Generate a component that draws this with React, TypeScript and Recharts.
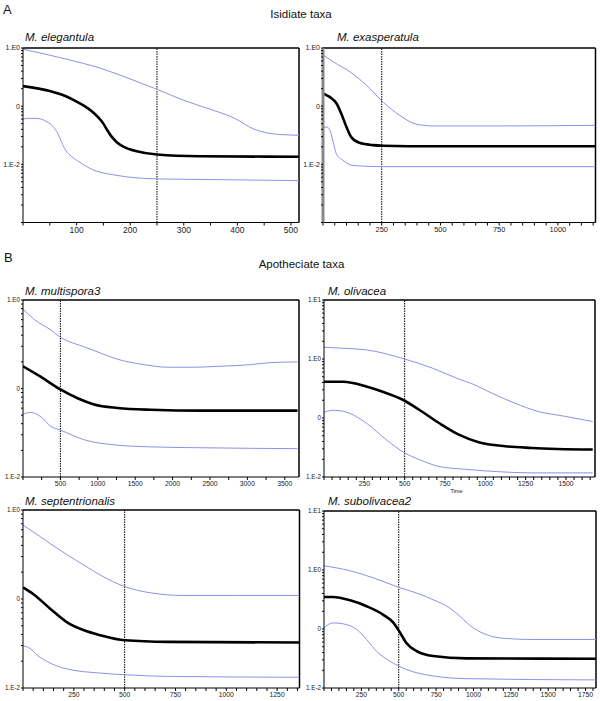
import React from "react";
import { LineChart, Line, XAxis, YAxis, ReferenceLine } from "recharts";

type Pt = { t: number; v: number };
const P = (arr: number[][]): Pt[] => arr.map(([t, v]) => ({ t, v }));

// ---------- Isidiate taxa ----------
const elegantulaUpper = P([[0, 0.955], [80, 0.646], [145, 0.447], [205, 0.282], [250, 0.195], [300, 0.126], [345, 0.0912], [395, 0.0617], [430, 0.0407], [455, 0.0347], [485, 0.0324], [515, 0.0316]]);
const elegantulaMedian = P([[0, 0.221], [50, 0.182], [80, 0.148], [100, 0.12], [115, 0.1], [130, 0.0794], [140, 0.0646], [150, 0.0501], [157, 0.0389], [165, 0.0302], [175, 0.024], [190, 0.0195], [210, 0.017], [250, 0.0148], [330, 0.0138], [515, 0.0135]]);
const elegantulaLower = P([[0, 0.0589], [7, 0.0617], [25, 0.0617], [45, 0.0537], [57, 0.0437], [65, 0.0339], [72, 0.024], [80, 0.0172], [90, 0.0138], [105, 0.011], [125, 0.00851], [175, 0.00646], [250, 0.00562], [330, 0.0055], [515, 0.00525]]);

const exasperatulaUpper = P([[0, 0.759], [45, 0.575], [115, 0.389], [185, 0.229], [256, 0.1175], [327, 0.0692], [398, 0.049], [470, 0.0457], [750, 0.0457], [1160, 0.0468]]);
const exasperatulaMedian = P([[0, 0.166], [28, 0.1445], [57, 0.112], [78, 0.0741], [100, 0.0437], [120, 0.0295], [155, 0.0234], [213, 0.0214], [256, 0.0209], [470, 0.0204], [1160, 0.0204]]);
const exasperatulaLower = P([[0, 0.0427], [17, 0.0437], [31, 0.0372], [43, 0.0245], [57, 0.0151], [85, 0.01175], [128, 0.00955], [256, 0.00912], [1160, 0.00912]]);

// ---------- Apotheciate taxa ----------
const multisporaUpper = P([[0, 0.79], [150, 0.603], [375, 0.457], [500, 0.38], [820, 0.295], [1040, 0.251], [1265, 0.214], [1620, 0.186], [1930, 0.174], [2290, 0.174], [2600, 0.178], [3040, 0.186], [3270, 0.195], [3670, 0.2]]);
const multisporaMedian = P([[0, 0.178], [240, 0.135], [500, 0.0977], [730, 0.0776], [950, 0.0661], [1265, 0.0603], [1710, 0.0575], [2380, 0.0562], [3670, 0.0562]]);
const multisporaLower = P([[0, 0.0513], [100, 0.0537], [240, 0.0479], [375, 0.0372], [500, 0.0339], [820, 0.0263], [1265, 0.0229], [1710, 0.0219], [2380, 0.0214], [3670, 0.0209]]);

const olivaceaUpper = P([[0, 1.585], [130, 1.514], [262, 1.429], [500, 1.0], [672, 0.7], [836, 0.457], [918, 0.38], [1041, 0.263], [1184, 0.178], [1328, 0.129], [1492, 0.107], [1666, 0.0871]]);
const olivaceaMedian = P([[0, 0.411], [119, 0.411], [262, 0.343], [385, 0.265], [500, 0.196], [590, 0.138], [713, 0.0822], [836, 0.0522], [959, 0.0388], [1123, 0.0332], [1287, 0.0311], [1666, 0.0292]]);
const olivaceaLower = P([[0, 0.125], [57, 0.135], [119, 0.13], [262, 0.0822], [385, 0.0431], [500, 0.0256], [590, 0.0198], [713, 0.0151], [877, 0.0135], [1082, 0.0123], [1287, 0.01175], [1666, 0.01175]]);

const septentrionalisUpper = P([[0, 0.676], [50, 0.569], [135, 0.417], [215, 0.316], [300, 0.24], [380, 0.186], [500, 0.138], [625, 0.1175], [790, 0.1096], [1035, 0.1096], [1360, 0.1096]]);
const septentrionalisMedian = P([[0, 0.135], [50, 0.114], [135, 0.0774], [215, 0.0551], [300, 0.0445], [380, 0.0392], [500, 0.0344], [710, 0.033], [1360, 0.0324]]);
const septentrionalisLower = P([[0, 0.0298], [35, 0.0278], [70, 0.0234], [135, 0.019], [215, 0.0164], [380, 0.0147], [500, 0.0141], [710, 0.0135], [1360, 0.0132]]);

const subolivaceaUpper = P([[0, 1.178], [175, 0.97], [395, 0.641], [500, 0.508], [620, 0.407], [730, 0.314], [840, 0.2275], [910, 0.164], [960, 0.125], [1000, 0.1045], [1050, 0.088], [1100, 0.078], [1220, 0.069], [1400, 0.0664], [1820, 0.0664]]);
const subolivaceaMedian = P([[0, 0.348], [60, 0.348], [175, 0.306], [285, 0.243], [395, 0.175], [465, 0.127], [510, 0.0861], [550, 0.0583], [620, 0.0422], [730, 0.0348], [955, 0.0318], [1820, 0.0314]]);
const subolivaceaLower = P([[0, 0.1045], [60, 0.127], [130, 0.122], [220, 0.098], [285, 0.0664], [350, 0.0422], [440, 0.0286], [550, 0.0207], [730, 0.016], [955, 0.0144], [1820, 0.0137]]);

// ---------- tick labels ----------
const yMajorValues = [10, 1, 0.1, 0.01, 0.001];
const yMajorLabels = ["1.E1", "1.E0", "0", "1.E-2", ""];
const elegantulaXLabels = [100, 200, 300, 400, 500];
const exasperatulaXLabels = [250, 500, 750, 1000];
const multisporaXLabels = [500, 1000, 1500, 2000, 2500, 3000, 3500];
const olivaceaXLabels = [250, 500, 750, 1000, 1250, 1500];
const septentrionalisXLabels = [250, 500, 750, 1000, 1250];
const subolivaceaXLabels = [250, 500, 750, 1000, 1250, 1500, 1750];

const FONT = "'Liberation Sans', Arial, Helvetica, sans-serif";
const BLUE = "#8f8fea";

function yLabel(v: number): string {
  const i = yMajorValues.findIndex((m) => Math.abs(v / m - 1) < 1e-6);
  return i >= 0 ? yMajorLabels[i] : "";
}

function logTicks(min: number, max: number): number[] {
  const out: number[] = [];
  const e0 = Math.round(Math.log10(min));
  const e1 = Math.round(Math.log10(max));
  for (let e = e0; e < e1; e++) {
    const d = Math.pow(10, e);
    for (let k = 1; k < 10; k++) out.push(d * k);
  }
  out.push(max);
  return out;
}

function linTicks(step: number, max: number): number[] {
  const out: number[] = [];
  for (let v = 0; v <= max + 1e-9; v += step) out.push(v);
  return out;
}

type PanelProps = {
  left: number; top: number; w: number; h: number;
  xMax: number; xStep: number; xLabels: number[];
  yMin: number; yMax: number; cut: number;
  upper: Pt[]; median: Pt[]; lower: Pt[];
  xFont: number; yFont: number;
  axisColor?: string; axisWidth?: number;
};

function Panel(p: PanelProps) {
  const YW = 30, MT = 4, MR = 4, XH = 18;
  const width = p.w + YW + MR;
  const height = p.h + MT + XH;
  const xt = linTicks(p.xStep, p.xMax);
  const yt = logTicks(p.yMin, p.yMax);
  return (
    <div style={{ position: "absolute", left: p.left - YW, top: p.top - MT }}>
      <LineChart width={width} height={height} margin={{ top: MT, right: MR, left: 0, bottom: 0 }}>
        <XAxis
          type="number" dataKey="t" domain={[0, p.xMax]} allowDataOverflow ticks={xt} interval={0}
          tickFormatter={(v: number) => (p.xLabels.includes(v) ? String(v) : "")}
          height={XH} tickSize={3} tickMargin={1}
          axisLine={{ stroke: "#000", strokeWidth: 1 }} tickLine={{ stroke: "#000" }}
          tick={{ fontSize: p.xFont, fill: "#222", fontFamily: FONT }}
        />
        <YAxis
          type="number" scale="log" domain={[p.yMin, p.yMax]} allowDataOverflow ticks={yt} interval={0}
          tickFormatter={(v: number) => yLabel(v)}
          width={YW} tickSize={2} tickMargin={1}
          axisLine={{ stroke: p.axisColor || "#000", strokeWidth: p.axisWidth || 1 }} tickLine={{ stroke: "#000" }}
          tick={{ fontSize: p.yFont, fill: "#222", fontFamily: FONT }}
        />
        <ReferenceLine y={p.yMax} stroke="#000" strokeWidth={1.5} ifOverflow="visible" />
        <ReferenceLine x={p.xMax} stroke="#000" strokeWidth={1.5} ifOverflow="visible" />
        <ReferenceLine x={p.cut} stroke="#000" strokeWidth={1} strokeDasharray="1.5 1" ifOverflow="visible" />
        <Line data={p.upper} dataKey="v" type="monotone" stroke={BLUE} strokeWidth={1} dot={false} isAnimationActive={false} />
        <Line data={p.lower} dataKey="v" type="monotone" stroke={BLUE} strokeWidth={1} dot={false} isAnimationActive={false} />
        <Line data={p.median} dataKey="v" type="monotone" stroke="#000" strokeWidth={2.6} dot={false} isAnimationActive={false} />
      </LineChart>
    </div>
  );
}

function Label(props: { x: number; y: number; size: number; text: string; italic?: boolean; center?: boolean }) {
  const { x, y, size, text, italic, center } = props;
  return (
    <div
      style={{
        position: "absolute", left: center ? x - 100 : x, top: y - size / 2, width: center ? 200 : undefined,
        textAlign: center ? "center" : "left", fontSize: size, lineHeight: 1, fontFamily: FONT,
        fontStyle: italic ? "italic" : "normal", color: "#111", whiteSpace: "nowrap",
      }}
    >
      {text}
    </div>
  );
}

export default function App() {
  return (
    <div style={{ position: "absolute", left: 0, top: 0, width: 600, height: 701, background: "#fff", overflow: "hidden" }}>
      <Label x={3} y={9} size={13} text="A" />
      <Label x={301} y={15} size={11.5} text="Isidiate taxa" center />
      <Label x={25} y={38} size={11.5} text="M. elegantula" italic />
      <Label x={337} y={38} size={11.5} text="M. exasperatula" italic />

      <Label x={4} y={257.5} size={13} text="B" />
      <Label x={301.5} y={265} size={11.5} text="Apotheciate taxa" center />
      <Label x={25} y={291.5} size={11.5} text="M. multispora3" italic />
      <Label x={328} y={291.5} size={11.5} text="M. olivacea" italic />
      <Label x={25} y={501.5} size={11.5} text="M. septentrionalis" italic />
      <Label x={328} y={501.5} size={11.5} text="M. subolivacea2" italic />
      <Label x={456.5} y={492} size={5.5} text="Time" center />

      <Panel left={22.5} top={48} w={276} h={174.5} xMax={515} xStep={50} xLabels={elegantulaXLabels}
        yMin={0.001} yMax={1} cut={250} upper={elegantulaUpper} median={elegantulaMedian} lower={elegantulaLower}
        xFont={8.5} yFont={7} />
      <Panel left={323.3} top={48} w={272.5} h={174.5} xMax={1160} xStep={50} xLabels={exasperatulaXLabels}
        yMin={0.001} yMax={1} cut={250} upper={exasperatulaUpper} median={exasperatulaMedian} lower={exasperatulaLower}
        xFont={7.5} yFont={7} axisColor="#888" axisWidth={3} />
      <Panel left={22.5} top={300} w={276} h={177} xMax={3690} xStep={250} xLabels={multisporaXLabels}
        yMin={0.01} yMax={1} cut={500} upper={multisporaUpper} median={multisporaMedian} lower={multisporaLower}
        xFont={6.8} yFont={6.3} />
      <Panel left={324} top={300} w={271} h={177} xMax={1680} xStep={50} xLabels={olivaceaXLabels}
        yMin={0.01} yMax={10} cut={500} upper={olivaceaUpper} median={olivaceaMedian} lower={olivaceaLower}
        xFont={6.8} yFont={6.3} />
      <Panel left={22.5} top={510} w={276.5} h={178} xMax={1360} xStep={50} xLabels={septentrionalisXLabels}
        yMin={0.01} yMax={1} cut={500} upper={septentrionalisUpper} median={septentrionalisMedian} lower={septentrionalisLower}
        xFont={6.8} yFont={6.3} />
      <Panel left={324} top={511} w={272} h={177} xMax={1820} xStep={50} xLabels={subolivaceaXLabels}
        yMin={0.01} yMax={10} cut={500} upper={subolivaceaUpper} median={subolivaceaMedian} lower={subolivaceaLower}
        xFont={6.8} yFont={6.3} />
    </div>
  );
}
